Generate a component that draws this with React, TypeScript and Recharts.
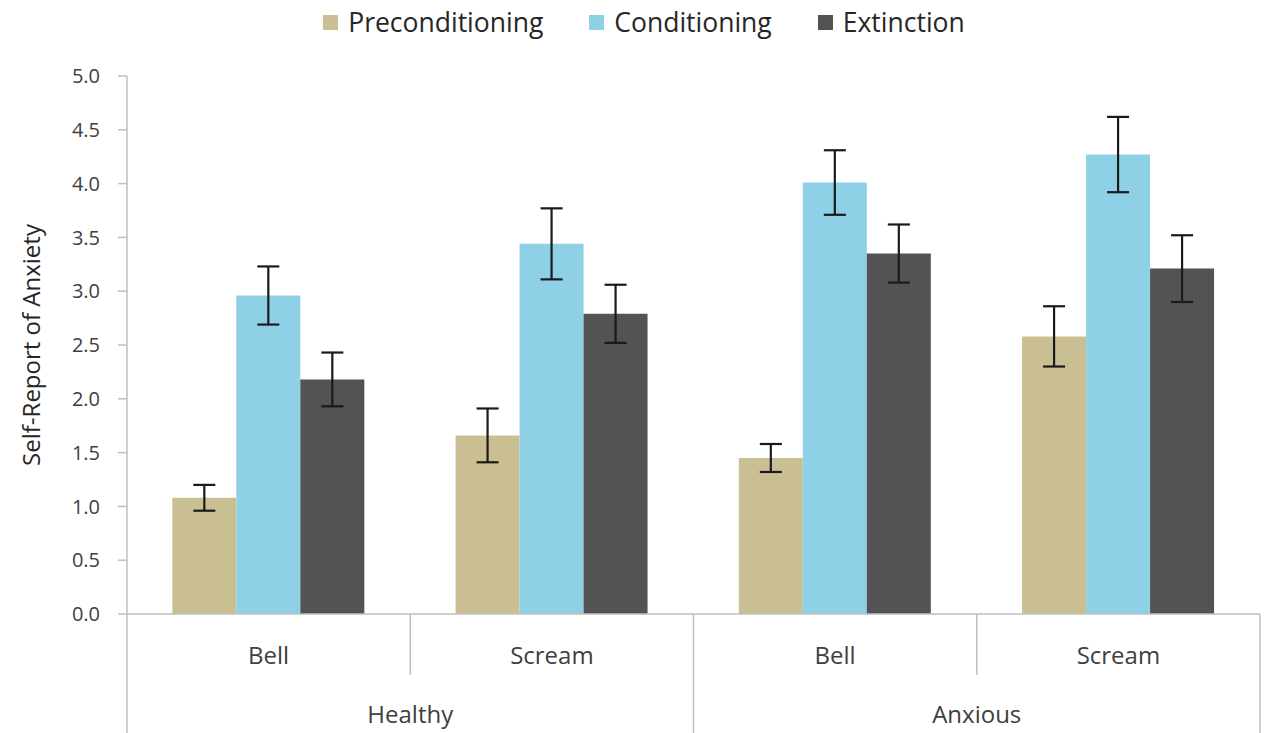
import React from 'react';
import { BarChart, Bar, XAxis, YAxis, ErrorBar, Legend } from 'recharts';

const stimuli = ['Bell', 'Scream', 'Bell', 'Scream'];
const groups = ['Healthy', 'Healthy', 'Anxious', 'Anxious'];
const preconditioning = [1.08, 1.66, 1.45, 2.58];
const preconditioningErr = [0.12, 0.25, 0.13, 0.28];
const conditioning = [2.96, 3.44, 4.01, 4.27];
const conditioningErr = [0.27, 0.33, 0.3, 0.35];
const extinction = [2.18, 2.79, 3.35, 3.21];
const extinctionErr = [0.25, 0.27, 0.27, 0.31];
const yTicks = [0, 0.5, 1, 1.5, 2, 2.5, 3, 3.5, 4, 4.5, 5];

const seriesNames = ['Preconditioning', 'Conditioning', 'Extinction'];
const seriesColors = ['#c9bf93', '#8ed1e6', '#535353'];

const data = stimuli.map((s, i) => ({
  key: `${groups[i]}-${s}-${i}`,
  stim: s,
  group: groups[i],
  pre: preconditioning[i],
  preErr: preconditioningErr[i],
  cond: conditioning[i],
  condErr: conditioningErr[i],
  ext: extinction[i],
  extErr: extinctionErr[i],
}));

const FONT = '"Open Sans", sans-serif';
const AXIS_GRAY = '#bfbfbf';
const TEXT = '#404040';

const XTick = (props: any) => {
  const { x, y, index, payload } = props;
  const half = payload && payload.offset ? payload.offset : 141.6;
  const isGroupStart = index % 2 === 0;
  const els: any[] = [];
  els.push(
    <line key="l" x1={x - half} x2={x - half} y1={y} y2={y + (isGroupStart ? 119 : 61)} stroke={AXIS_GRAY} strokeWidth={1.5} />
  );
  if (index === stimuli.length - 1) {
    els.push(<line key="r" x1={x + half} x2={x + half} y1={y} y2={y + 119} stroke={AXIS_GRAY} strokeWidth={1.5} />);
  }
  els.push(
    <text key="t" x={x} y={y + 50} textAnchor="middle" fontFamily={FONT} fontSize={24} fill={TEXT}>
      {stimuli[index]}
    </text>
  );
  if (isGroupStart) {
    els.push(
      <text key="g" x={x + half} y={y + 109} textAnchor="middle" fontFamily={FONT} fontSize={24} fill={TEXT}>
        {groups[index]}
      </text>
    );
  }
  return <g>{els}</g>;
};

const LegendContent = () => (
  <div style={{ height: 76, display: 'flex', justifyContent: 'center', alignItems: 'flex-start', paddingTop: 3, boxSizing: 'border-box', paddingLeft: 28 }}>
    {seriesNames.map((n, i) => (
      <div key={n} style={{ display: 'flex', alignItems: 'center', marginRight: i < 2 ? 46 : 0 }}>
        <div style={{ width: 15, height: 15, background: seriesColors[i], marginRight: 10 }} />
        <span style={{ fontFamily: FONT, fontSize: 26.5, color: '#262626', lineHeight: '38px' }}>{n}</span>
      </div>
    ))}
  </div>
);

const YLabel = (props: any) => {
  const vb = props.viewBox || { x: 0, y: 76, width: 127, height: 538 };
  const cx = vb.x + 30;
  const cy = vb.y + vb.height / 2;
  return (
    <text x={cx} y={cy} transform={`rotate(-90 ${cx} ${cy})`} textAnchor="middle" dominantBaseline="central" fontFamily={FONT} fontSize={24} fill="#262626">
      Self-Report of Anxiety
    </text>
  );
};

export default function App() {
  return (
    <div style={{ position: 'absolute', left: 0, top: 0, width: 1270, height: 733, background: '#fff' }}>
      <BarChart
        width={1270}
        height={733}
        data={data}
        margin={{ top: 0, right: 10, bottom: 0, left: 0 }}
        barCategoryGap="16%"
        barGap={0}
      >
        <Legend verticalAlign="top" align="center" content={<LegendContent />} />
        <XAxis
          dataKey="key"
          height={119}
          axisLine={{ stroke: AXIS_GRAY, strokeWidth: 1.5 }}
          tickLine={false}
          tickSize={0}
          tickMargin={0}
          interval={0}
          tick={<XTick />}
        />
        <YAxis
          width={127}
          domain={[0, 5]}
          ticks={yTicks}
          tickFormatter={(v: number) => v.toFixed(1)}
          axisLine={{ stroke: AXIS_GRAY, strokeWidth: 1.5 }}
          tickLine={{ stroke: AXIS_GRAY, strokeWidth: 1.5 }}
          tickSize={9}
          tickMargin={18}
          tick={{ fontFamily: FONT, fontSize: 20, fill: TEXT }}
          label={<YLabel />}
        />
        <Bar dataKey="pre" name={seriesNames[0]} fill={seriesColors[0]} isAnimationActive={false}>
          <ErrorBar dataKey="preErr" width={11} stroke="#1a1a1a" strokeWidth={2.2} />
        </Bar>
        <Bar dataKey="cond" name={seriesNames[1]} fill={seriesColors[1]} isAnimationActive={false}>
          <ErrorBar dataKey="condErr" width={11} stroke="#1a1a1a" strokeWidth={2.2} />
        </Bar>
        <Bar dataKey="ext" name={seriesNames[2]} fill={seriesColors[2]} isAnimationActive={false}>
          <ErrorBar dataKey="extErr" width={11} stroke="#1a1a1a" strokeWidth={2.2} />
        </Bar>
      </BarChart>
    </div>
  );
}
